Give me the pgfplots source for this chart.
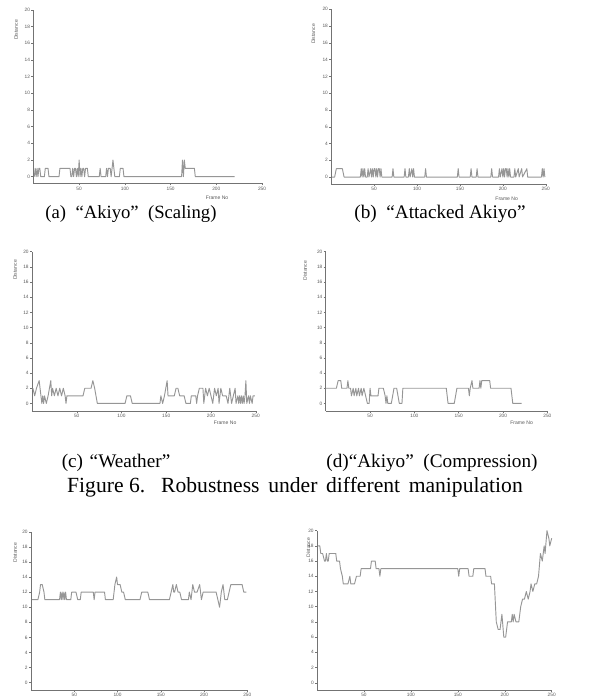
\documentclass[border=0pt]{standalone}
\usepackage{fontspec}
\setmainfont{Liberation Serif}
\setsansfont{Liberation Sans}
\usepackage{pgfplots}
\pgfplotsset{compat=1.18}
\definecolor{dataC}{RGB}{150,150,150}
\definecolor{axC}{RGB}{115,115,115}
\pgfplotsset{
  sub/.style={
    scale only axis, anchor=south west,
    axis lines=left, axis line style={-, axC, line width=0.4pt},
    xmin=0, xmax=250, ymax=20, clip=false,
    xtick={50,100,150,200,250}, ytick={0,2,...,20},
    tick align=outside, major tick length=1.5pt,
    tick style={axC, line width=0.3pt},
    /pgf/number format/assume math mode=true,
    ticklabel style={font=\sffamily\fontsize{3.6}{4}\selectfont, text=black!65, inner sep=0.8pt},
    label style={font=\sffamily\fontsize{3.8}{4}\selectfont, text=black!65},
    ylabel={Distance},
  },
  dl/.style={dataC, line width=0.7pt, line join=round},
}
\begin{document}
\begin{tikzpicture}
\useasboundingbox (0,0) rectangle (442.5pt,525pt);
% (a)
\begin{axis}[sub, at={(25.05pt,387.5pt)}, width=171.5pt, height=130pt, ymin=-0.8,
  ylabel style={at={(axis description cs:-0.076,0.885)}, anchor=center},
  xlabel={Frame No}, xlabel style={at={(axis description cs:0.803,-0.083)}, anchor=center}]
\addplot[dl] coordinates {(1,0)(2,1)(3,0)(4,1)(5,0)(6,1)(7,1)(8,0)(12,0)(13,1)(16,1)(17,0)(28,0)(29,1)(40,1)(41,0)(42,0)(43,1)(44,0)(45,1)(46,1)(47,0)(48,1)(49,0)(50,2)(51,0)(52,1)(53,0)(54,1)(55,1)(56,0)(57,1)(59,1)(60,0)(72,0)(73,1)(74,0)(79,0)(80,1)(81,0)(82,1)(84,1)(85,0)(86,1)(87,2)(88,1)(89,0)(94,0)(95,1)(98,1)(99,0)(162,0)(163,2)(164,0)(165,2)(166,1)(176,1)(177,0)(220,0)};
\end{axis}
% (b)
\begin{axis}[sub, at={(248.4pt,387pt)}, width=160.9pt, height=131pt, ymin=-0.83,
  ylabel style={at={(axis description cs:-0.083,0.859)}, anchor=center},
  xlabel={Frame No}, xlabel style={at={(axis description cs:0.818,-0.082)}, anchor=center}]
\addplot[dl] coordinates {(1,0)(4,0)(6,1)(13,1)(15,0)(34,0)(35,1)(36,0)(37,1)(38,0)(39,1)(40,0)(42,0)(43,1)(44,0)(46,1)(47,0)(48,1)(49,0)(50,1)(51,1)(52,0)(53,1)(54,0)(55,1)(56,1)(57,0)(58,1)(59,0)(71,0)(72,1)(73,0)(85,0)(86,1)(87,0)(90,0)(91,1)(92,0)(94,1)(95,0)(96,1)(97,0)(109,0)(110,1)(111,0)(147,0)(148,1)(149,0)(162,0)(163,1)(164,0)(169,0)(170,1)(171,0)(186,0)(187,1)(188,0)(195,0)(196,1)(197,0)(199,1)(200,0)(201,1)(202,0)(203,1)(204,1)(205,0)(206,1)(207,0)(208,1)(209,0)(213,0)(214,1)(215,0)(218,1)(219,0)(222,1)(223,0)(228,1)(229,0)(245,0)(246,1)(247,0)(248,1)(249,0)};
\end{axis}
% (c)
\begin{axis}[sub, at={(24pt,216.75pt)}, width=167.8pt, height=119.5pt, ymin=-1,
  ylabel style={at={(axis description cs:-0.076,0.885)}, anchor=center},
  xlabel={Frame No}, xlabel style={at={(axis description cs:0.863,-0.073)}, anchor=center}]
\addplot[dl] coordinates {(1,2)(3,1)(5,2)(8,3)(10,1)(11,0)(12,1)(13,0)(14,1)(16,0)(18,1)(21,3)(22,1)(23,2)(25,1)(27,2)(29,1)(31,2)(33,1)(35,2)(37,1)(38,0)(39,1)(57,1)(59,2)(66,2)(68,3)(70,2)(73,0)(104,0)(106,1)(110,1)(112,0)(143,0)(144,1)(146,0)(148,1)(151,3)(152,1)(159,1)(161,2)(163,2)(165,1)(170,1)(172,0)(177,0)(178,1)(183,1)(184,0)(185,1)(187,2)(191,2)(192,0)(194,2)(196,1)(198,2)(200,1)(202,0)(204,2)(206,1)(208,2)(209,0)(211,2)(213,1)(217,1)(219,0)(221,2)(223,0)(225,1)(227,2)(228,0)(230,1)(231,0)(232,1)(233,0)(234,1)(235,0)(236,1)(237,0)(238,1)(239,3)(240,0)(242,1)(243,0)(244,1)(246,0)(247,1)(249,1)};
\end{axis}
% (d)
\begin{axis}[sub, at={(244.3pt,216.75pt)}, width=166.2pt, height=119.5pt, ymin=-1,
  ylabel style={at={(axis description cs:-0.093,0.88)}, anchor=center},
  xlabel={Frame No}, xlabel style={at={(axis description cs:0.884,-0.073)}, anchor=center}]
\addplot[dl] coordinates {(0,2)(12,2)(14,3)(17,3)(18,2)(24,2)(25,3)(26,2)(28,2)(29,1)(31,2)(32,1)(34,2)(35,1)(37,2)(38,1)(40,2)(41,1)(43,2)(45,1)(47,0)(49,0)(50,2)(51,1)(59,1)(60,2)(65,2)(67,1)(68,0)(69,1)(70,0)(74,0)(77,2)(80,2)(83,0)(86,0)(87,2)(136,2)(138,0)(145,0)(148,2)(161,2)(162,1)(163,2)(165,3)(166,2)(173,2)(174,3)(175,2)(176,3)(177,3)(185,3)(186,2)(209,2)(211,0)(221,0)};
\end{axis}
% (e)
\begin{axis}[sub, at={(23.25pt,7.5pt)}, width=162.2pt, height=118.7pt, ymin=-0.97,
  ylabel style={at={(axis description cs:-0.074,0.867)}, anchor=center}]
\addplot[dl] coordinates {(1,11)(8,11)(10,12)(11,13)(13,13)(15,12)(16,11)(33,11)(34,12)(35,11)(36,12)(37,11)(38,12)(39,11)(40,12)(41,11)(46,11)(47,12)(52,12)(54,11)(57,11)(58,12)(72,12)(73,11)(74,12)(85,12)(86,11)(95,11)(96,12)(97,13)(99,14)(100,13)(103,13)(105,12)(107,12)(109,11)(126,11)(128,12)(135,12)(137,11)(160,11)(162,12)(164,13)(165,12)(166,12)(168,13)(170,12)(172,12)(174,11)(182,11)(183,12)(185,11)(187,13)(189,12)(192,12)(195,13)(197,11)(199,12)(214,12)(216,11)(218,10)(220,12)(222,13)(224,11)(227,11)(229,12)(231,13)(244,13)(246,12)(249,12)};
\end{axis}
% (f)
\begin{axis}[sub, at={(237.75pt,7.5pt)}, width=176pt, height=119.5pt, ymin=-0.96,
  ylabel style={at={(axis description cs:-0.037,0.893)}, anchor=center}]
\addplot[dl] coordinates {(1,18)(3,18)(4,17)(6,17)(8,16)(9,16)(10,17)(11,16)(12,16)(13,17)(20,17)(21,16)(24,16)(25,15)(27,14)(28,13)(33,13)(35,14)(36,13)(40,13)(42,14)(46,14)(47,15)(57,15)(58,16)(62,16)(63,15)(66,15)(67,14)(68,15)(150,15)(151,14)(152,15)(161,15)(162,14)(166,14)(167,15)(179,15)(180,14)(185,14)(186,13)(189,13)(191,8)(193,7)(195,7)(197,9)(199,6)(201,6)(203,8)(207,8)(208,9)(209,8)(210,9)(212,8)(215,8)(217,10)(219,11)(221,11)(223,12)(225,11)(227,12)(228,13)(230,12)(232,13)(234,13)(236,14)(238,17)(240,16)(242,18)(243,17)(245,20)(247,19)(248,18)(250,19)};
\end{axis}
% captions
\node[anchor=center, font=\fontsize{14}{16}\selectfont] at (98.25pt,364.5pt) {(a)~ “Akiyo”~ (Scaling)};
\node[anchor=center, font=\fontsize{14.4}{16}\selectfont] at (330pt,364.5pt) {(b)~ “Attacked Akiyo”};
\node[anchor=center, font=\fontsize{14.4}{16}\selectfont] at (87pt,177.75pt) {(c)\hspace{5pt}“Weather”};
\node[anchor=center, font=\fontsize{14.4}{16}\selectfont] at (324pt,177.75pt) {(d)“Akiyo”~ (Compression)};
\node[anchor=center, font=\fontsize{16.2}{17}\selectfont] at (221.25pt,159.75pt) {Figure 6.\hspace{12pt}Robustness\hspace{6.5pt}under\hspace{6.5pt}different\hspace{6.5pt}manipulation};
\end{tikzpicture}
\end{document}
